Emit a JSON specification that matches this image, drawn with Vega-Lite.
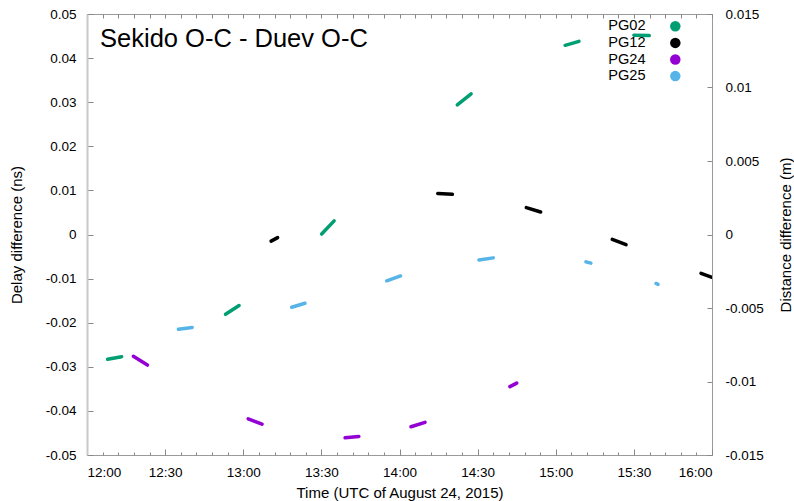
{
  "$schema": "https://vega.github.io/schema/vega-lite/v6.json",
  "width": 625,
  "height": 441,
  "autosize": {"type": "none"},
  "padding": {"left": 87, "top": 14, "right": 82, "bottom": 46},
  "background": "white",
  "config": {
    "view": {"stroke": "#9a9a9a", "strokeWidth": 1},
    "font": "Liberation Sans",
    "axis": {"grid": false, "domain": false, "labelFont": "Liberation Sans", "titleFont": "Liberation Sans", "labelFontSize": 13.5, "titleFontSize": 15, "labelColor": "#000", "titleColor": "#000", "titleFontWeight": "normal", "tickColor": "#888"},
    "legend": {"labelFont": "Liberation Sans"}
  },
  "data": {"values": [
    {"s": "PG02", "g": "a1", "t": 7.9, "d": -0.0283}, {"s": "PG02", "g": "a1", "t": 13.3, "d": -0.0277},
    {"s": "PG02", "g": "a2", "t": 53.2, "d": -0.0181}, {"s": "PG02", "g": "a2", "t": 58.4, "d": -0.0161},
    {"s": "PG02", "g": "a3", "t": 90.1, "d": 0.0001}, {"s": "PG02", "g": "a3", "t": 94.9, "d": 0.0031},
    {"s": "PG02", "g": "a4", "t": 142.2, "d": 0.0294}, {"s": "PG02", "g": "a4", "t": 147.5, "d": 0.0319},
    {"s": "PG02", "g": "a5", "t": 183.6, "d": 0.0429}, {"s": "PG02", "g": "a5", "t": 188.9, "d": 0.0438},
    {"s": "PG02", "g": "a6", "t": 210.0, "d": 0.0452}, {"s": "PG02", "g": "a6", "t": 215.9, "d": 0.0451},
    {"s": "PG12", "g": "b1", "t": 70.7, "d": -0.0015}, {"s": "PG12", "g": "b1", "t": 73.2, "d": -0.0007},
    {"s": "PG12", "g": "b2", "t": 134.7, "d": 0.0093}, {"s": "PG12", "g": "b2", "t": 140.3, "d": 0.0091},
    {"s": "PG12", "g": "b3", "t": 168.7, "d": 0.0061}, {"s": "PG12", "g": "b3", "t": 174.2, "d": 0.0051},
    {"s": "PG12", "g": "b4", "t": 201.7, "d": -0.0011}, {"s": "PG12", "g": "b4", "t": 207.0, "d": -0.0023},
    {"s": "PG12", "g": "b5", "t": 235.8, "d": -0.0088}, {"s": "PG12", "g": "b5", "t": 240.0, "d": -0.0097},
    {"s": "PG24", "g": "c1", "t": 17.8, "d": -0.0276}, {"s": "PG24", "g": "c1", "t": 23.2, "d": -0.0296},
    {"s": "PG24", "g": "c2", "t": 61.9, "d": -0.0418}, {"s": "PG24", "g": "c2", "t": 67.2, "d": -0.0430},
    {"s": "PG24", "g": "c3", "t": 99.1, "d": -0.0461}, {"s": "PG24", "g": "c3", "t": 104.4, "d": -0.0458},
    {"s": "PG24", "g": "c4", "t": 124.4, "d": -0.0436}, {"s": "PG24", "g": "c4", "t": 129.8, "d": -0.0426},
    {"s": "PG24", "g": "c5", "t": 162.4, "d": -0.0345}, {"s": "PG24", "g": "c5", "t": 165.0, "d": -0.0337},
    {"s": "PG25", "g": "d1", "t": 35.1, "d": -0.0215}, {"s": "PG25", "g": "d1", "t": 40.4, "d": -0.0211},
    {"s": "PG25", "g": "d2", "t": 78.6, "d": -0.0165}, {"s": "PG25", "g": "d2", "t": 83.7, "d": -0.0156},
    {"s": "PG25", "g": "d3", "t": 115.1, "d": -0.0105}, {"s": "PG25", "g": "d3", "t": 120.4, "d": -0.0094},
    {"s": "PG25", "g": "d4", "t": 150.5, "d": -0.0058}, {"s": "PG25", "g": "d4", "t": 156.0, "d": -0.0053},
    {"s": "PG25", "g": "d5", "t": 191.6, "d": -0.0062}, {"s": "PG25", "g": "d5", "t": 193.5, "d": -0.0065},
    {"s": "PG25", "g": "d6", "t": 218.5, "d": -0.0111}, {"s": "PG25", "g": "d6", "t": 219.3, "d": -0.0113}
  ]},
  "resolve": {"scale": {"y": "independent"}, "axis": {"x": "independent", "y": "independent"}},
  "layer": [
    {
      "mark": {"type": "line", "strokeWidth": 3.5, "strokeCap": "round", "clip": true},
      "encoding": {
        "x": {"field": "t", "type": "quantitative", "scale": {"domain": [0, 240], "nice": false, "zero": false},
          "axis": {"orient": "bottom", "values": [0, 30, 60, 90, 120, 150, 180, 210, 240], "tickSize": -6, "labelPadding": 16,
            "labelExpr": "(12 + floor(datum.value / 60)) + ':' + (datum.value % 60 == 0 ? '00' : '30')",
            "title": "Time (UTC of August 24, 2015)", "titleX": 312.5, "titleY": 37, "titleBaseline": "middle", "titleAlign": "center"}},
        "y": {"field": "d", "type": "quantitative", "scale": {"domain": [-0.05, 0.05], "nice": false, "zero": false},
          "axis": {"orient": "left", "values": [-0.05, -0.04, -0.03, -0.02, -0.01, 0, 0.01, 0.02, 0.03, 0.04, 0.05], "tickSize": -6, "labelPadding": 17,
            "domain": true, "domainColor": "#c8c8c8", "domainWidth": 2,
            "labelExpr": "'' + round(datum.value * 100) / 100",
            "title": "Delay difference (ns)", "titleX": -71, "titleY": 220.5, "titleAngle": -90, "titleBaseline": "middle", "titleAlign": "center"}},
        "color": {"field": "s", "type": "nominal", "scale": {"domain": ["PG02", "PG12", "PG24", "PG25"], "range": ["#009e73", "#000000", "#9400d3", "#56b4e9"]},
          "legend": {"title": null, "orient": "none", "legendX": 581, "legendY": 5, "symbolType": "circle", "symbolSize": 110, "symbolStrokeWidth": 0,
            "labelAlign": "right", "labelOffset": -37, "labelFontSize": 14.6, "labelBaseline": "middle", "rowPadding": 1.6, "padding": 0,
            "encode": {"symbols": {"update": {"fill": {"scale": "color", "field": "value"}, "stroke": {"value": "transparent"}, "fillOpacity": {"value": 1}, "size": {"value": 110}, "strokeWidth": {"value": 0}}}}}},
        "detail": {"field": "g", "type": "nominal"}
      }
    },
    {
      "data": {"values": [{"label": "Sekido O-C - Duev O-C"}]},
      "mark": {"type": "text", "fontSize": 25.5, "align": "left", "baseline": "alphabetic", "font": "Liberation Sans", "color": "#000"},
      "encoding": {
        "x": {"datum": 5.0, "type": "quantitative", "axis": null},
        "y": {"datum": 0.0425, "type": "quantitative", "scale": {"domain": [-0.05, 0.05], "nice": false, "zero": false}, "axis": null},
        "text": {"field": "label"}
      }
    },
    {
      "data": {"values": [{"v": 0}]},
      "mark": {"type": "rule", "opacity": 0},
      "encoding": {
        "y": {"field": "v", "type": "quantitative", "scale": {"domain": [-0.015, 0.015], "nice": false, "zero": false},
          "axis": {"orient": "right", "values": [-0.015, -0.01, -0.005, 0, 0.005, 0.01, 0.015], "tickSize": -5, "labelPadding": 18,
            "labelExpr": "'' + round(datum.value * 1000) / 1000",
            "title": "Distance difference (m)", "titleX": 73, "titleY": 220.5, "titleAngle": -90, "titleBaseline": "middle", "titleAlign": "center"}}
      }
    },
    {
      "data": {"values": [{"v": 0}]},
      "mark": {"type": "rule", "opacity": 0},
      "encoding": {
        "x": {"field": "v", "type": "quantitative",
          "axis": {"orient": "bottom", "values": [6, 12, 18, 24, 36, 42, 48, 54, 66, 72, 78, 84, 96, 102, 108, 114, 126, 132, 138, 144, 156, 162, 168, 174, 186, 192, 198, 204, 216, 222, 228, 234], "tickSize": -3, "labels": false, "title": null}}
      }
    },
    {
      "data": {"values": [{"v": 0}]},
      "mark": {"type": "rule", "opacity": 0},
      "encoding": {
        "x": {"field": "v", "type": "quantitative",
          "axis": {"orient": "top", "values": [0, 6, 12, 18, 24, 30, 36, 42, 48, 54, 60, 66, 72, 78, 84, 90, 96, 102, 108, 114, 120, 126, 132, 138, 144, 150, 156, 162, 168, 174, 180, 186, 192, 198, 204, 210, 216, 222, 228, 234, 240], "tickSize": -4, "labels": false, "title": null}}
      }
    }
  ]
}
